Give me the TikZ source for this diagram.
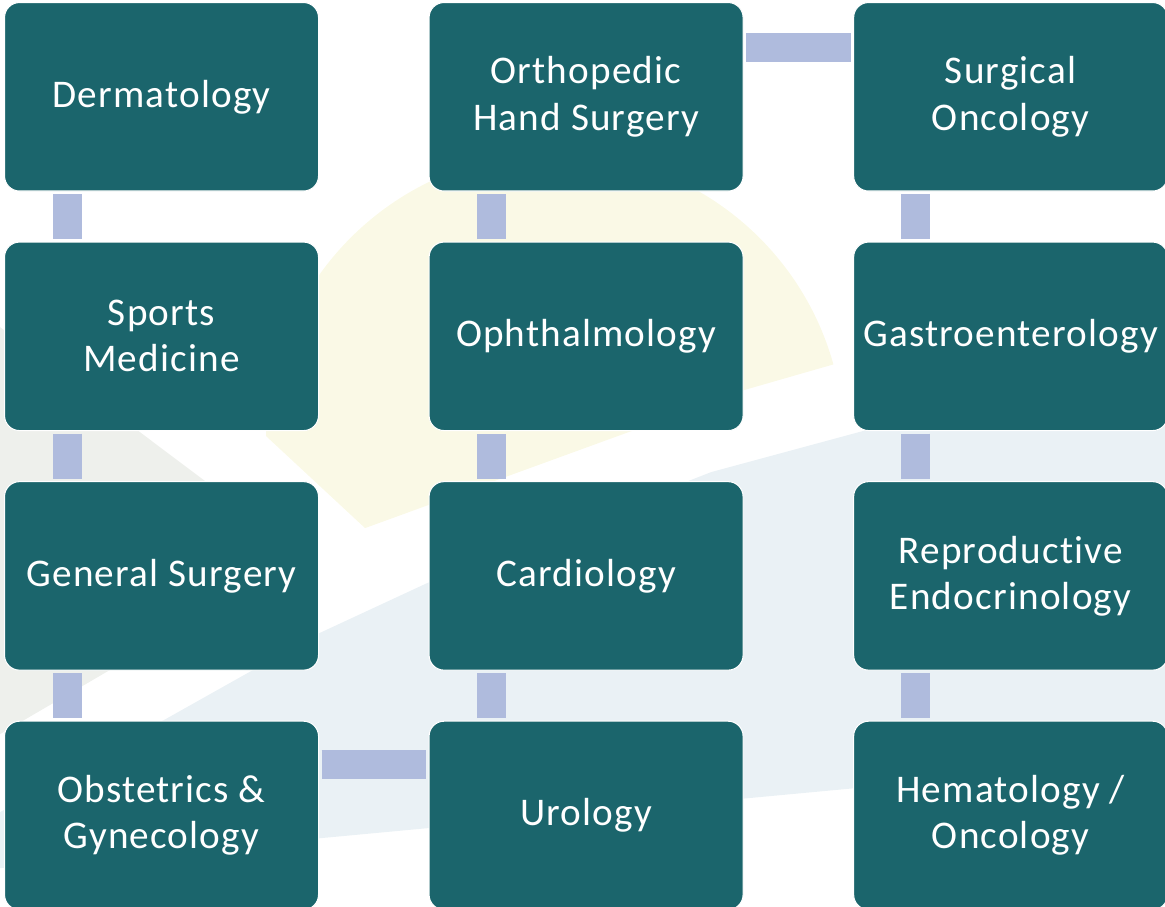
\documentclass[tikz,border=0pt]{standalone}
\usepackage{fontspec}
\setmainfont{Carlito}
\newfontfamily\boxfont{Carlito}[LetterSpace=3, Ligatures=NoCommon]
\usepackage{xcolor}
\usepackage{tikz}
\usetikzlibrary{positioning}

\definecolor{tealbox}{HTML}{1B656C}
\definecolor{linkblue}{HTML}{AFBBDD}
\definecolor{sunyellow}{HTML}{FAF9E6}
\definecolor{swooshgray}{HTML}{EEF0EC}
\definecolor{swooshblue}{HTML}{EAF1F5}

\begin{document}
\begin{tikzpicture}[
	tealnode/.style={rectangle, rounded corners=0.3cm, draw=white, line width=0.6pt, fill=tealbox, text=white, minimum width=6.28cm, minimum height=3.77cm, align=center, font=\boxfont\fontsize{22.3}{26.2}\selectfont},
	linkbar/.style={draw=linkblue, line width=0.58cm, shorten >=0.05cm, shorten <=0.05cm},
	]
	\useasboundingbox (0,0) rectangle (23.3,18.12);

	%Background
	\begin{scope}[x=0.02cm, y=-0.02cm, shift={(0cm,18.12cm)}]
		\fill[swooshgray] (0,327) -- (305,556) -- (0,734) -- cycle;
		\fill[sunyellow] (365,528) -- (266,436) arc[start angle=181.2, end angle=344.4, radius=289] -- (744,390) -- cycle;
		\fill[swooshblue] (315,635) -- (427,583) -- (711,472) -- (870,429) -- (1165,355) -- (1165,759) -- (0,868) -- (0,812) -- cycle;
	\end{scope}

	%Nodes
	\node[tealnode, anchor=north west](derm) at (0.08,18.08){Dermatology};
	\node[tealnode](sports)[below=1cm of derm]{Sports\\Medicine};
	\node[tealnode](gensurg)[below=1cm of sports]{General Surgery};
	\node[tealnode](obgyn)[below=1cm of gensurg]{Obstetrics \&\\Gynecology};

	\node[tealnode](ortho)[right=2.19cm of derm]{Orthopedic\\Hand Surgery};
	\node[tealnode](ophth)[below=1cm of ortho]{Ophthalmology};
	\node[tealnode](cardio)[below=1cm of ophth]{Cardiology};
	\node[tealnode](uro)[below=1cm of cardio]{Urology};

	\node[tealnode](surgonc)[right=2.19cm of ortho]{Surgical\\Oncology};
	\node[tealnode](gastro)[below=1cm of surgonc]{Gastroenterology};
	\node[tealnode](repro)[below=1cm of gastro]{Reproductive\\Endocrinology};
	\node[tealnode](hemonc)[below=1cm of repro]{Hematology /\\Oncology};

	%Lines
	\draw[linkbar] ([xshift=1.26cm]derm.south west) -- ([xshift=1.26cm]sports.north west);
	\draw[linkbar] ([xshift=1.26cm]sports.south west) -- ([xshift=1.26cm]gensurg.north west);
	\draw[linkbar] ([xshift=1.26cm]gensurg.south west) -- ([xshift=1.26cm]obgyn.north west);
	\draw[linkbar] ([yshift=-0.88cm]obgyn.north east) -- ([yshift=-0.88cm]uro.north west);
	\draw[linkbar] ([xshift=1.25cm]uro.north west) -- ([xshift=1.25cm]cardio.south west);
	\draw[linkbar] ([xshift=1.25cm]cardio.north west) -- ([xshift=1.25cm]ophth.south west);
	\draw[linkbar] ([xshift=1.25cm]ophth.north west) -- ([xshift=1.25cm]ortho.south west);
	\draw[linkbar] ([yshift=-0.91cm]ortho.north east) -- ([yshift=-0.91cm]surgonc.north west);
	\draw[linkbar] ([xshift=1.25cm]surgonc.south west) -- ([xshift=1.25cm]gastro.north west);
	\draw[linkbar] ([xshift=1.25cm]gastro.south west) -- ([xshift=1.25cm]repro.north west);
	\draw[linkbar] ([xshift=1.25cm]repro.south west) -- ([xshift=1.25cm]hemonc.north west);

\end{tikzpicture}
\end{document}
